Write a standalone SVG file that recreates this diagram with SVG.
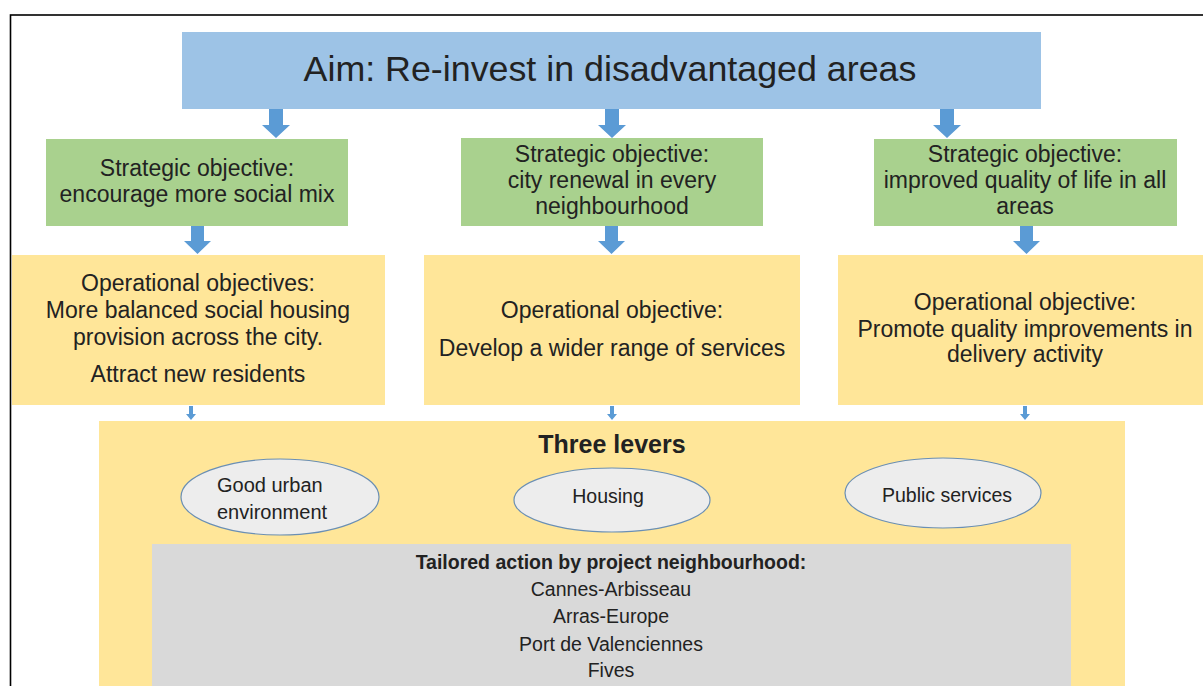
<svg xmlns="http://www.w3.org/2000/svg" width="1203" height="686" viewBox="0 0 1203 686">
<defs>
<style>
.t{font-family:"Liberation Sans",Arial,sans-serif;fill:#222;text-anchor:middle}
.box{font-size:23px}
.aim{fill:#9DC3E6}
.strat{fill:#A9D18E}
.op{fill:#FFE699}
.gray{fill:#D9D9D9}
.ell{fill:#EDEDED;stroke:#6A8FB5;stroke-width:1.2}
.arr{fill:#5B9BD5}
.st{text-anchor:start}
</style>
</defs>
<rect width="1203" height="686" fill="#fff"/>
<rect x="10.5" y="15" width="1300" height="1000" fill="none" stroke="#000" stroke-width="1.6"/>

<g id="aim">
<rect class="aim" x="182" y="32" width="859" height="77"/>
<text class="t" x="610" y="81" font-size="35.8">Aim: Re-invest in disadvantaged areas</text>
</g>

<g id="strat1">
<rect class="strat" x="46" y="139" width="302" height="87"/>
<text class="t box" x="197" y="176">Strategic objective:</text>
<text class="t box" x="197" y="202">encourage more social mix</text>
</g>
<g id="strat2">
<rect class="strat" x="461" y="138" width="302" height="88"/>
<text class="t box" x="612" y="162">Strategic objective:</text>
<text class="t box" x="612" y="188">city renewal in every</text>
<text class="t box" x="612" y="214">neighbourhood</text>
</g>
<g id="strat3">
<rect class="strat" x="874" y="139" width="303" height="87"/>
<text class="t box" x="1025" y="162">Strategic objective:</text>
<text class="t box" x="1025" y="188">improved quality of life in all</text>
<text class="t box" x="1025" y="214">areas</text>
</g>

<g id="op1">
<rect class="op" x="12" y="255" width="373" height="150"/>
<text class="t box" x="198" y="291">Operational objectives:</text>
<text class="t box" x="198" y="318">More balanced social housing</text>
<text class="t box" x="198" y="345">provision across the city.</text>
<text class="t box" x="198" y="382">Attract new residents</text>
</g>
<g id="op2">
<rect class="op" x="424" y="255" width="376" height="150"/>
<text class="t box" x="612" y="318">Operational objective:</text>
<text class="t box" x="612" y="356">Develop a wider range of services</text>
</g>
<g id="op3">
<rect class="op" x="838" y="255" width="370" height="150"/>
<text class="t box" x="1025" y="310">Operational objective:</text>
<text class="t box" x="1025" y="337">Promote quality improvements in</text>
<text class="t box" x="1025" y="362">delivery activity</text>
</g>

<g id="levers">
<rect class="op" x="99" y="421" width="1026" height="280"/>
<text class="t" x="612" y="453" font-size="25" font-weight="bold">Three levers</text>
</g>
<g id="lever-urban">
<ellipse class="ell" cx="280" cy="497" rx="99" ry="38"/>
<text class="t st" x="217" y="492" font-size="20">Good urban</text>
<text class="t st" x="217" y="519" font-size="20">environment</text>
</g>
<g id="lever-housing">
<ellipse class="ell" cx="612" cy="500" rx="98" ry="32"/>
<text class="t" x="608" y="503" font-size="19.5">Housing</text>
</g>
<g id="lever-services">
<ellipse class="ell" cx="943" cy="493" rx="98" ry="35"/>
<text class="t" x="947" y="502" font-size="19.5">Public services</text>
</g>

<g id="tailored">
<rect class="gray" x="152" y="544" width="919" height="160"/>
<text class="t" x="611" y="569" font-size="19.5" font-weight="bold">Tailored action by project neighbourhood:</text>
<text class="t" x="611" y="596" font-size="19.5">Cannes-Arbisseau</text>
<text class="t" x="611" y="623" font-size="19.5">Arras-Europe</text>
<text class="t" x="611" y="651" font-size="19.5">Port de Valenciennes</text>
<text class="t" x="611" y="677" font-size="19.5">Fives</text>
</g>

<g id="connectors">
<path class="arr" d="M269,109 h14 v16 h7 l-14,13 l-14,-13 h7 z"/>
<path class="arr" d="M605,109 h14 v16 h7 l-14,13 l-14,-13 h7 z"/>
<path class="arr" d="M940,109 h14 v16 h7 l-14,13 l-14,-13 h7 z"/>
<path class="arr" d="M191,226 h13 v15 h7 l-13.5,13 l-13.5,-13 h7 z"/>
<path class="arr" d="M605,226 h13 v15 h7 l-13.5,13 l-13.5,-13 h7 z"/>
<path class="arr" d="M1020,226 h13 v15 h7 l-13.5,13 l-13.5,-13 h7 z"/>
<path class="arr" d="M189,406 h4 v8 h3 l-5,6 l-5,-6 h3 z"/>
<path class="arr" d="M610,406 h4 v8 h3 l-5,6 l-5,-6 h3 z"/>
<path class="arr" d="M1023,406 h4 v8 h3 l-5,6 l-5,-6 h3 z"/>
</g>
</svg>
